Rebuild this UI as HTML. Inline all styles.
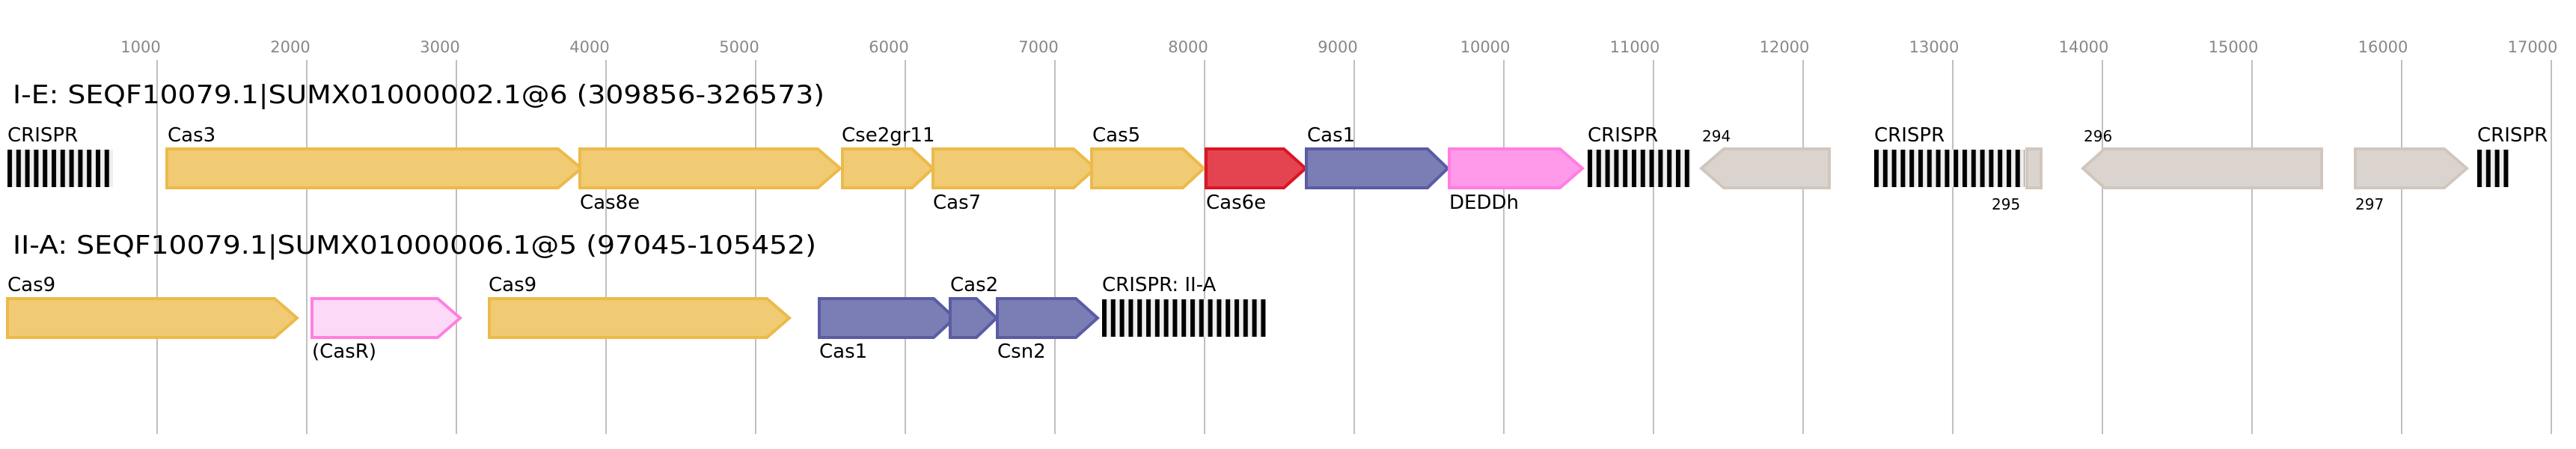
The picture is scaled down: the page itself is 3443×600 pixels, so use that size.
<!DOCTYPE html>
<html><head><meta charset="utf-8"><style>html,body{margin:0;padding:0;background:#fff}svg{display:block}text{font-family:"DejaVu Sans","Liberation Sans",sans-serif}</style></head>
<body>
<svg width="3443" height="600" viewBox="0 0 3443 600" xmlns="http://www.w3.org/2000/svg">
<defs>
<pattern id="cr" patternUnits="userSpaceOnUse" x="0" y="0" width="11.8" height="60">
<rect x="0" y="0" width="11.8" height="60" fill="#eeeeee"/>
<rect x="0" y="0" width="6" height="60" fill="#000"/>
</pattern>
</defs>
<g stroke="#c0c0c0" stroke-width="2">
<line x1="210" y1="80" x2="210" y2="580"/><line x1="410" y1="80" x2="410" y2="580"/><line x1="610" y1="80" x2="610" y2="580"/><line x1="810" y1="80" x2="810" y2="580"/><line x1="1010" y1="80" x2="1010" y2="580"/><line x1="1210" y1="80" x2="1210" y2="580"/><line x1="1410" y1="80" x2="1410" y2="580"/><line x1="1610" y1="80" x2="1610" y2="580"/><line x1="1810" y1="80" x2="1810" y2="580"/><line x1="2010" y1="80" x2="2010" y2="580"/><line x1="2210" y1="80" x2="2210" y2="580"/><line x1="2410" y1="80" x2="2410" y2="580"/><line x1="2610" y1="80" x2="2610" y2="580"/><line x1="2810" y1="80" x2="2810" y2="580"/><line x1="3010" y1="80" x2="3010" y2="580"/><line x1="3210" y1="80" x2="3210" y2="580"/><line x1="3410" y1="80" x2="3410" y2="580"/>
</g>
<g fill="#888" font-size="21" text-anchor="middle">
<text x="188" y="70">1000</text><text x="388" y="70">2000</text><text x="588" y="70">3000</text><text x="788" y="70">4000</text><text x="988" y="70">5000</text><text x="1188" y="70">6000</text><text x="1388" y="70">7000</text><text x="1588" y="70">8000</text><text x="1788" y="70">9000</text><text x="1985" y="70">10000</text><text x="2185" y="70">11000</text><text x="2385" y="70">12000</text><text x="2585" y="70">13000</text><text x="2785" y="70">14000</text><text x="2985" y="70">15000</text><text x="3185" y="70">16000</text><text x="3385" y="70">17000</text>
</g>
<text x="17" y="138" font-size="34" textLength="1085" lengthAdjust="spacingAndGlyphs">I-E: SEQF10079.1|SUMX01000002.1@6 (309856-326573)</text>
<text x="17" y="339" font-size="34" textLength="1074" lengthAdjust="spacingAndGlyphs">II-A: SEQF10079.1|SUMX01000006.1@5 (97045-105452)</text>

<g stroke-width="4">
<!-- row1 -->
<polygon points="223,199 746,199 777,225 746,251 223,251" fill="#f0cb73" stroke="#ecba4a"/>
<polygon points="775,199 1093,199 1123,225 1093,251 775,251" fill="#f0cb73" stroke="#ecba4a"/>
<polygon points="1126,199 1219,199 1247,225 1219,251 1126,251" fill="#f0cb73" stroke="#ecba4a"/>
<polygon points="1247,199 1435,199 1464,225 1435,251 1247,251" fill="#f0cb73" stroke="#ecba4a"/>
<polygon points="1459,199 1581,199 1609,225 1581,251 1459,251" fill="#f0cb73" stroke="#ecba4a"/>
<polygon points="1612,199 1716,199 1745,225 1716,251 1612,251" fill="#e44450" stroke="#dc1424"/>
<polygon points="1746,199 1908,199 1935,225 1908,251 1746,251" fill="#7b7db5" stroke="#5a5ca4"/>
<polygon points="1937,199 2085,199 2115,225 2085,251 1937,251" fill="#ff99e9" stroke="#ff7ee2"/>
<polygon points="2274,225 2304,199 2445,199 2445,251 2304,251" fill="#dbd4ce" stroke="#d1c6bd"/>
<rect x="2709" y="199" width="19" height="52" fill="#dbd4ce" stroke="#d1c6bd"/>
<polygon points="2784,225 2813,199 3103,199 3103,251 2813,251" fill="#dbd4ce" stroke="#d1c6bd"/>
<polygon points="3148,199 3267,199 3297,225 3267,251 3148,251" fill="#dbd4ce" stroke="#d1c6bd"/>
<!-- row2 -->
<polygon points="10,399 367,399 397,425 367,451 10,451" fill="#f0cb73" stroke="#ecba4a"/>
<polygon points="417,399 585,399 615,425 585,451 417,451" fill="#fcd9f6" stroke="#ff80e0"/>
<polygon points="654,399 1025,399 1055,425 1025,451 654,451" fill="#f0cb73" stroke="#ecba4a"/>
<polygon points="1095,399 1248,399 1276,425 1248,451 1095,451" fill="#7b7db5" stroke="#5a5ca4"/>
<polygon points="1270,399 1305,399 1332,425 1305,451 1270,451" fill="#7b7db5" stroke="#5a5ca4"/>
<polygon points="1333,399 1438,399 1467,425 1438,451 1333,451" fill="#7b7db5" stroke="#5a5ca4"/>
</g>
<g transform="translate(10,200)"><rect width="141" height="50" fill="url(#cr)"/></g>
<g transform="translate(2122,200)"><rect width="138" height="50" fill="url(#cr)"/></g>
<g transform="translate(2505,200)"><rect width="201" height="50" fill="url(#cr)"/></g>
<g transform="translate(3311,200)"><rect width="42" height="50" fill="url(#cr)"/></g>
<g transform="translate(1473,400)"><rect width="219" height="50" fill="url(#cr)"/></g>

<g font-size="26" fill="#000">
<text x="10" y="189">CRISPR</text><text x="224" y="189">Cas3</text><text x="1125" y="189">Cse2gr11</text><text x="1460" y="189">Cas5</text><text x="1747" y="189">Cas1</text><text x="2122" y="189">CRISPR</text><text x="2505" y="189">CRISPR</text><text x="3311" y="189">CRISPR</text>
<text x="775" y="279">Cas8e</text><text x="1247" y="279">Cas7</text><text x="1612" y="279">Cas6e</text><text x="1937" y="279">DEDDh</text>
<text x="10" y="389">Cas9</text><text x="653" y="389">Cas9</text><text x="1270" y="389">Cas2</text><text x="1473" y="389">CRISPR: II-A</text>
<text x="417" y="478">(CasR)</text><text x="1095" y="478">Cas1</text><text x="1333" y="478">Csn2</text>
</g>
<g font-size="20" fill="#000">
<text x="2275" y="189">294</text><text x="2662" y="280">295</text><text x="2785" y="189">296</text><text x="3148" y="280">297</text>
</g>
</svg>
</body></html>
